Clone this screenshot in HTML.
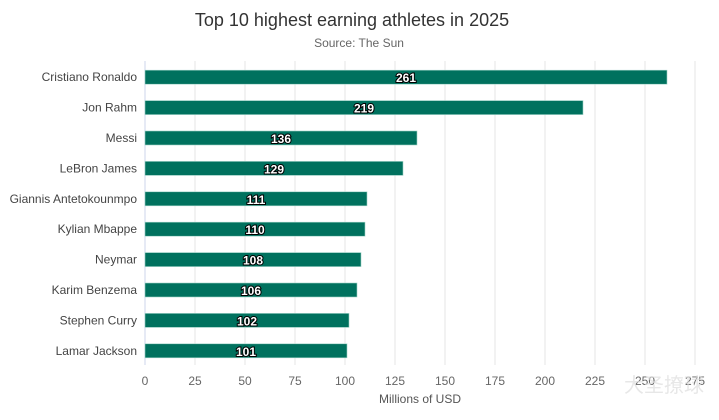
<!DOCTYPE html>
<html><head><meta charset="utf-8"><style>
body{margin:0;background:#fff;font-family:"Liberation Sans",sans-serif;}
svg text{font-family:"Liberation Sans",sans-serif;}
</style></head><body>
<svg width="719" height="415">
<text x="352" y="26" text-anchor="middle" font-size="18" fill="#333">Top 10 highest earning athletes in 2025</text>
<text x="359" y="47" text-anchor="middle" font-size="12" fill="#666">Source: The Sun</text>
<g id="grid"></g><g id="bars"></g><g id="labels"></g>
<text x="420" y="403" text-anchor="middle" font-size="12" fill="#555">Millions of USD</text>
<text x="664" y="392" text-anchor="middle" font-size="20" fill="#ddd" opacity="0.7">大圣撩球</text>
</svg>
<script>
const categories=["Cristiano Ronaldo","Jon Rahm","Messi","LeBron James","Giannis Antetokounmpo","Kylian Mbappe","Neymar","Karim Benzema","Stephen Curry","Lamar Jackson"];
const values=[261,219,136,129,111,110,108,106,102,101];
const ticks=[0,25,50,75,100,125,150,175,200,225,250,275];
const NS="http://www.w3.org/2000/svg";
const x=v=>145+v*2;
const top0=62,band=30.4;
const y=i=>top0+i*band;
function mk(t,a,p){const e=document.createElementNS(NS,t);for(const k in a)e.setAttribute(k,a[k]);p.appendChild(e);return e;}
const g=document.getElementById('grid'),b=document.getElementById('bars'),l=document.getElementById('labels');
ticks.forEach(t=>{
 const ln=mk('line',{x1:x(t),x2:x(t),y1:61,y2:365,stroke:t===0?'#ccd6eb':'#e6e6e6','stroke-width':1},g);
 
 
 const tx=mk('text',{x:x(t),y:385,'text-anchor':'middle','font-size':12,fill:'#666'},g);
 tx.textContent=t;
 
 
});
categories.forEach((c,i)=>{
 const cy=y(i)+band/2;
 const r=mk('rect',{x:x(0),y:cy-7,width:x(values[i])-x(0),height:14,fill:'#00715e',stroke:'#9fd3c7','stroke-width':0.6},b);
 
 
 const ct=mk('text',{x:137,y:cy+4,'text-anchor':'end','font-size':12,fill:'#444'},l);
 ct.textContent=c;
 
 
 const vt=mk('text',{x:(x(0)+x(values[i]))/2,y:cy+5,'text-anchor':'middle','font-size':12,'font-weight':'bold',fill:'#fff',stroke:'#000','stroke-width':2,'paint-order':'stroke'},l);
 vt.textContent=values[i];
 
 
});
</script>
</body></html>
